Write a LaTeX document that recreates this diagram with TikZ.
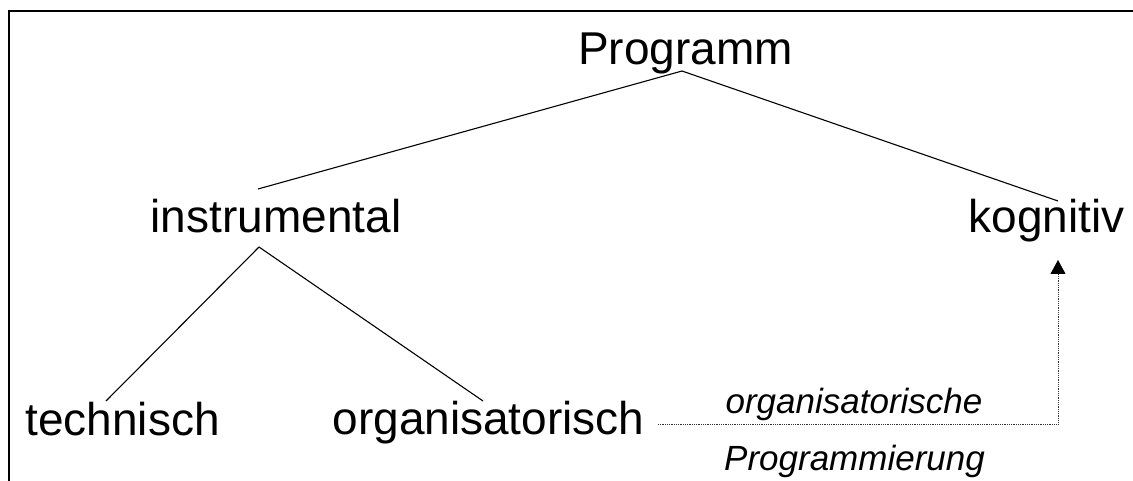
\documentclass[tikz,border=0pt]{standalone}
\usepackage{fontspec}
\setmainfont{Liberation Sans}
\usetikzlibrary{arrows.meta,calc}
\begin{document}
\begin{tikzpicture}[x=1pt,y=-1pt,
  lbl/.style={inner sep=0pt,anchor=base,font=\fontsize{46}{55}\selectfont},
  edgelbl/.style={inner sep=0pt,anchor=base,font=\fontsize{35}{42}\selectfont\itshape},
  conn/.style={line width=1.1pt},
  dotconn/.style={line width=0.9pt,dash pattern=on 0.9pt off 0.9pt,black!80}]
\useasboundingbox (0,0) rectangle (1133,481);
% frame (partly outside the picture)
\draw[line width=2.2pt] (9.3,481) -- (9.3,11) -- (1133,11);
% nodes
\node[lbl] (prog)  at (685.5,65)  {Programm};
\node[lbl] (instr) at (276,233)   {instrumental};
\node[lbl] (kog)   at (1046.5,233){kognitiv};
\node[lbl] (tech)  at (122.5,435) {technisch};
\node[lbl] (org)   at (488.5,434) {organisatorisch};
\node[edgelbl] (l1) at (854,413)  {organisatorische};
\node[edgelbl] (l2) at (854.5,470){Programmierung};
% connectors
\draw[conn] ($(prog.base)+(-3.5,6)$) -- ($(instr.base)+(-18,-44)$);
\draw[conn] ($(prog.base)+(-3.5,6)$) -- ($(kog.base)+(11.5,-32)$);
\draw[conn] ($(instr.base)+(-17,14)$) -- ($(tech.base)+(-16.5,-34)$);
\draw[conn] ($(instr.base)+(-17,14)$) -- ($(org.base)+(-5.5,-33)$);
\coordinate (corner) at ($(kog.base)+(11.5,191)$);
\draw[dotconn] ($(org.base)+(169.5,-10)$) -- (corner) -- ($(kog.base)+(11.5,41)$);
\draw[-{Triangle[width=15pt,length=14pt]},line width=0.9pt,black] ($(kog.base)+(11.5,42)$) -- ($(kog.base)+(11.5,27)$);
\end{tikzpicture}
\end{document}
